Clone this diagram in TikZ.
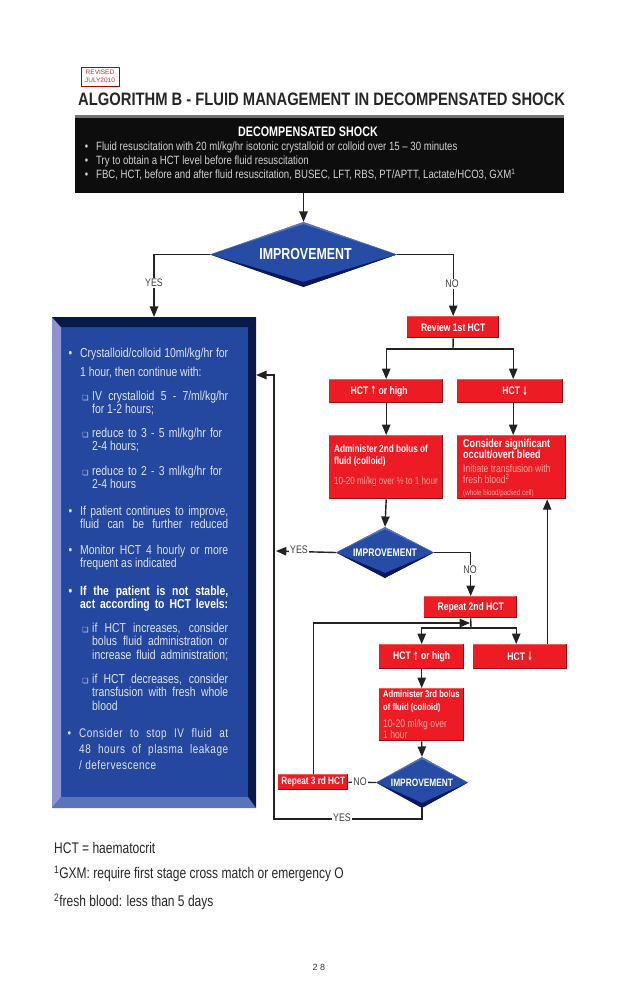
\documentclass[tikz,border=0pt]{standalone}
\usepackage{fontspec}
\usepackage{graphicx}
\setmainfont{Liberation Sans}
\newfontfamily\titlefont[FakeStretch=0.82]{Liberation Sans}
\newfontfamily\narrowfont[FakeStretch=0.80]{Liberation Sans}
\newfontfamily\spacedfont[FakeStretch=0.80,LetterSpace=4]{Liberation Sans}
\newfontfamily\boxfont[FakeStretch=0.78]{Liberation Sans}
\newfontfamily\symfont{DejaVu Sans}
\usetikzlibrary{arrows}
\usetikzlibrary{shapes.geometric}
\definecolor{shockred}{HTML}{ED1C24}
\definecolor{darkred}{HTML}{8E1014}
\definecolor{lightred}{HTML}{F4595C}
\definecolor{softred}{HTML}{F6A79E}
\definecolor{panelblue}{HTML}{24479F}
\definecolor{navy}{HTML}{0A1A48}
\definecolor{paleblue}{HTML}{8F93CF}
\definecolor{midblue}{HTML}{5A74BA}
\definecolor{diamondblue}{HTML}{274CA6}
\definecolor{softblue}{HTML}{DDE3F2}
\definecolor{linegray}{HTML}{222222}
\newcommand{\jl}[2]{\makebox[#1][s]{#2}}
\newcommand{\tick}{\llap{{\symfont\fontsize{7}{7}\selectfont ❑}\hspace{3.5pt}}}
\newcommand{\dotitem}{\llap{\textbullet\hspace{8pt}}}
\newcommand{\up}{\raisebox{-0.5pt}{\scalebox{0.6}[1.05]{\symfont\bfseries ↑}}}
\newcommand{\down}{\raisebox{-0.5pt}{\scalebox{0.6}[1.05]{\symfont\bfseries ↓}}}
\tikzstyle{flow} = [
    draw=linegray,
    line width=1.4pt,
    -triangle 45
]
\tikzstyle{plain_line} = [
    draw=linegray,
    line width=1.4pt
]
\tikzstyle{line_label} = [
    fill=white,
    text=black!75,
    font=\narrowfont\fontsize{11}{11}\selectfont,
    inner sep=1pt
]
\tikzstyle{red_box} = [
    rectangle,
    fill=shockred,
    text=white,
    anchor=north west,
    inner sep=0pt,
    font=\boxfont\bfseries\fontsize{11}{11}\selectfont,
    path picture={
        \path (path picture bounding box.south west) coordinate (sw)
              (path picture bounding box.north east) coordinate (ne)
              (path picture bounding box.south east) coordinate (se)
              (path picture bounding box.north west) coordinate (nw);
        \fill[lightred] (nw) rectangle ([yshift=-1pt]ne);
        \fill[darkred] (sw) rectangle ([yshift=1pt]se);
        \fill[darkred] ([xshift=-1.5pt]ne) rectangle (se);
    }
]
\tikzstyle{red_text} = [
    anchor=north west,
    inner sep=0pt,
    align=left,
    text=white,
    font=\boxfont\fontsize{10.4}{12}\selectfont
]
\tikzstyle{blue_diamond} = [
    diamond,
    fill=diamondblue,
    text=white,
    inner sep=0pt,
    path picture={
        \path (path picture bounding box.south) coordinate (s)
              (path picture bounding box.north) coordinate (n)
              (path picture bounding box.east) coordinate (e)
              (path picture bounding box.west) coordinate (w);
        \fill[midblue] (w) -- (n) -- (e) -- ([yshift=-2pt]n) -- cycle;
        \fill[navy!85!blue] (w) -- (s) -- (e) -- ([yshift=5pt]s) -- cycle;
    }
]
\tikzstyle{blue_text} = [
    anchor=north west,
    inner sep=0pt,
    align=left,
    text=softblue,
    font=\narrowfont\fontsize{13}{13.3}\selectfont
]
\tikzstyle{note_text} = [
    anchor=west,
    inner sep=0pt,
    text=black!85,
    font=\boxfont\fontsize{15.4}{15.4}\selectfont
]
\begin{document}
\begin{tikzpicture}[x=1pt, y=-1pt]
\useasboundingbox (0,0) rectangle (638,993);
% heading
\node [draw=red!70!black, line width=0.7pt, minimum width=38pt, minimum height=19pt,
       inner sep=0pt, align=center, text=red!60!black!80,
       font=\fontsize{6.5}{8}\selectfont] (revised) at (100,76.5) {REVISED\\JULY2010};
\node [anchor=west, inner sep=0pt, text=black!85,
       font=\titlefont\bfseries\fontsize{18}{18}\selectfont] (title) at (78,99)
    {ALGORITHM B - FLUID MANAGEMENT IN DECOMPENSATED SHOCK};
% top panel
\node [fill=black!95, minimum width=489pt, minimum height=78pt, inner sep=0pt,
       path picture={
           \fill[black!55] (path picture bounding box.north west) rectangle
               ([yshift=-3pt]path picture bounding box.north east);
       }] (shock) at (319.5,154) {};
\node [inner sep=0pt, text=white, font=\boxfont\bfseries\fontsize{13.8}{13.8}\selectfont]
    (shock_title) at (308,132) {DECOMPENSATED SHOCK};
\node [anchor=north west, inner sep=0pt, align=left, text=black!18,
       font=\narrowfont\fontsize{12}{14}\selectfont] (shock_text) at (96,142)
    {\dotitem Fluid resuscitation with 20 ml/kg/hr isotonic crystalloid or colloid over 15 – 30 minutes\\
     \dotitem Try to obtain a HCT level before fluid resuscitation\\
     \dotitem FBC, HCT, before and after fluid resuscitation, BUSEC, LFT, RBS, PT/APTT, Lactate/HCO3, GXM\textsuperscript{1}};
% decisions
\node [blue_diamond, aspect=2.88, minimum width=187pt, minimum height=65pt,
       font=\boxfont\bfseries\fontsize{15.9}{15.9}\selectfont] (improve_a) at (303.5,254.5) {\hspace*{4pt}IMPROVEMENT};
\node [blue_diamond, aspect=1.92, minimum width=98pt, minimum height=51pt,
       font=\boxfont\bfseries\fontsize{11}{11}\selectfont] (improve_b) at (385,552.5) {IMPROVEMENT};
\node [blue_diamond, aspect=1.8, minimum width=92pt, minimum height=51pt,
       font=\boxfont\bfseries\fontsize{10.7}{10.7}\selectfont] (improve_c) at (422,782.5) {IMPROVEMENT};
% left panel
\node [fill=panelblue, minimum width=204pt, minimum height=491pt, inner sep=0pt,
       path picture={
           \path (path picture bounding box.south west) coordinate (sw)
                 (path picture bounding box.north east) coordinate (ne)
                 (path picture bounding box.south east) coordinate (se)
                 (path picture bounding box.north west) coordinate (nw);
           \fill[paleblue] (nw) -- ([xshift=9pt,yshift=-10pt]nw) -- ([xshift=9pt,yshift=11pt]sw) -- (sw) -- cycle;
           \fill[navy] (nw) -- (ne) -- ([xshift=-8pt,yshift=-10pt]ne) -- ([xshift=9pt,yshift=-10pt]nw) -- cycle;
           \fill[navy] (ne) -- (se) -- ([xshift=-8pt,yshift=11pt]se) -- ([xshift=-8pt,yshift=-10pt]ne) -- cycle;
           \fill[midblue] (sw) -- (se) -- ([xshift=-8pt,yshift=11pt]se) -- ([xshift=9pt,yshift=11pt]sw) -- cycle;
       }] (panel) at (154,562.5) {};
\node [blue_text] (item_a) at (80,348)
    {\dotitem\jl{148pt}{Crystalloid/colloid 10ml/kg/hr for}\\[5.7pt]1 hour, then continue with:};
\node [blue_text] (item_a1) at (92,391) {\tick\jl{136pt}{IV crystalloid 5 - 7/ml/kg/hr}\\for 1-2 hours;};
\node [blue_text] (item_a2) at (92,428) {\tick\jl{130pt}{reduce to 3 - 5 ml/kg/hr for}\\2-4 hours;};
\node [blue_text] (item_a3) at (92,466) {\tick\jl{130pt}{reduce to 2 - 3 ml/kg/hr for}\\2-4 hours};
\node [blue_text] (item_b) at (80,506)
    {\dotitem\jl{148pt}{If patient continues to improve,}\\\jl{148pt}{fluid can be further reduced}};
\node [blue_text] (item_c) at (80,545)
    {\dotitem\jl{148pt}{Monitor HCT 4 hourly or more}\\frequent as indicated};
\node [blue_text, font=\narrowfont\bfseries\fontsize{13}{13.3}\selectfont, text=white] (item_d) at (80,586)
    {\dotitem\jl{148pt}{If the patient is not stable,}\\\jl{148pt}{act according to HCT levels:}};
\node [blue_text] (item_d1) at (92,623)
    {\tick\jl{136pt}{if HCT increases, consider}\\\jl{136pt}{bolus fluid administration or}\\\jl{136pt}{increase fluid administration;}};
\node [blue_text] (item_d2) at (92,674)
    {\tick\jl{136pt}{if HCT decreases, consider}\\\jl{136pt}{transfusion with fresh whole}\\blood};
\node [blue_text, font=\spacedfont\fontsize{12.5}{16}\selectfont] (item_e) at (79,728)
    {\dotitem\jl{149pt}{Consider to stop IV fluid at}\\\jl{149pt}{48 hours of plasma leakage}\\/ defervescence};
% red boxes
\node [red_box, minimum width=92pt, minimum height=22pt] (review_a) at (407,316) {Review 1st HCT};
\node [red_box, minimum width=114pt, minimum height=24pt] (hct_up_a) at (329,379) {HCT \up\ or high\hspace*{14pt}};
\node [red_box, minimum width=106pt, minimum height=24pt] (hct_down_a) at (457,379) {\hspace*{10pt}HCT \down};
\node [red_box, minimum width=114pt, minimum height=64pt] (bolus_a) at (329,435) {};
\node [red_text, font=\boxfont\bfseries\fontsize{10.5}{12.5}\selectfont] (bolus_a_title) at (334,444.5) {Administer 2nd bolus of\\fluid (colloid)};
\node [red_text, text=softred] (bolus_a_text) at (334,476.5) {10-20 ml/kg over ½ to 1 hour};
\node [red_box, minimum width=109pt, minimum height=64pt] (bleed) at (457,435) {};
\node [red_text, font=\boxfont\bfseries\fontsize{11.6}{10.5}\selectfont] (bleed_title) at (463,438.5) {Consider significant\\occult/overt bleed};
\node [red_text, text=softred, font=\boxfont\fontsize{11}{10.5}\selectfont] (bleed_text) at (463,464.5) {Initiate transfusion with\\fresh blood\textsuperscript{2}};
\node [red_text, text=softred, font=\boxfont\fontsize{8}{7.5}\selectfont] (bleed_small) at (463,489) {(whole blood/packed cell)};
\node [red_box, minimum width=93pt, minimum height=22pt] (review_b) at (424,596) {Repeat 2nd HCT};
\node [red_box, minimum width=85pt, minimum height=25pt] (hct_up_b) at (379,644) {HCT \up\ or high};
\node [red_box, minimum width=94pt, minimum height=25pt] (hct_down_b) at (473,644) {HCT \down};
\node [red_box, minimum width=85pt, minimum height=53pt] (bolus_b) at (379,688) {};
\node [red_text, font=\boxfont\bfseries\fontsize{9.8}{12.8}\selectfont] (bolus_b_title) at (383,690.5) {Administer 3rd bolus\\of fluid (colloid)};
\node [red_text, text=softred, font=\boxfont\fontsize{11}{10.5}\selectfont] (bolus_b_text) at (383,719.5) {10-20 ml/kg over\\1 hour};
\node [red_box, minimum width=70pt, minimum height=16pt, font=\boxfont\bfseries\fontsize{10.5}{10.5}\selectfont] (review_c) at (278,774) {Repeat 3 rd HCT};
% joints
\coordinate (split_a) at (453,349);
\coordinate (split_b) at (471,628);
\coordinate (loop_in) at (470,623);
\coordinate (back_mid) at (276,551);
\coordinate (back_low) at (274,819);
\coordinate (back_top) at (274,375);
% connectors
\draw [flow] (improve_a.north |- shock.south) -- (improve_a.north);
\draw [flow] (improve_a.west) -| (panel.north);
\draw [flow] (improve_a.east) -| (review_a.north);
\draw [plain_line] (review_a.south) -- (split_a);
\draw [flow] (split_a) -| (hct_up_a.north);
\draw [flow] (split_a) -| ([xshift=3pt]hct_down_a.north);
\draw [flow] (hct_up_a.south) -- (bolus_a.north);
\draw [flow] ([xshift=3pt]hct_down_a.south) -- ([xshift=1.5pt]bleed.north);
\draw [flow] (bolus_a.south) -- (improve_b.north);
\draw [flow] (improve_b.west) -- (back_mid);
\draw [flow] (improve_b.east) -| (review_b.north);
\draw [plain_line] (review_b.south) -- (split_b);
\draw [flow] (split_b) -| (hct_up_b.north);
\draw [flow] (split_b) -| ([xshift=-4pt]hct_down_b.north);
\draw [flow] ([xshift=27pt]hct_down_b.north) -- ([xshift=27pt]hct_down_b.north |- bleed.south);
\draw [flow] (hct_up_b.south) -- (bolus_b.north);
\draw [flow] (bolus_b.south) -- (improve_c.north);
\draw [plain_line] (improve_c.west) -- (review_c.east);
\draw [flow] (review_c.north) |- (loop_in);
\draw [flow] (improve_c.south) |- (back_low) -- (back_top) -- (back_top -| panel.east);
% labels on the lines
\node [line_label] (yes_a) at (154,283) {YES};
\node [line_label] (no_a) at (452,284) {NO};
\node [line_label] (yes_b) at (299,549.5) {YES};
\node [line_label] (no_b) at (470,570) {NO};
\node [line_label] (no_c) at (360,782) {NO};
\node [line_label] (yes_c) at (342,818) {YES};
% notes
\node [note_text] (note_a) at (54,848) {HCT = haematocrit};
\node [note_text] (note_b) at (54,874) {\textsuperscript{1}GXM: require first stage cross match or emergency O};
\node [note_text] (note_c) at (54,902) {\textsuperscript{2}fresh blood: less than 5 days};
\node [inner sep=0pt, text=black!80, font=\fontsize{9}{9}\selectfont] (page_no) at (319,967) {2 8};
\end{tikzpicture}
\end{document}
